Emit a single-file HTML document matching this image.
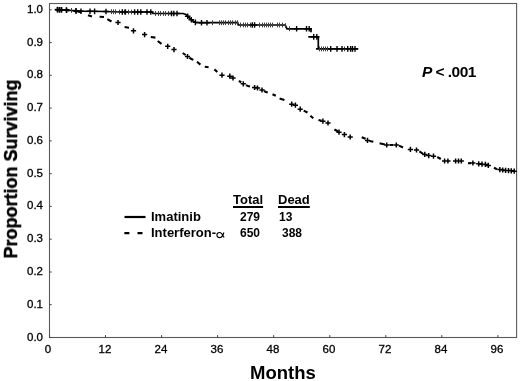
<!DOCTYPE html><html><head><meta charset="utf-8"><style>
html,body{margin:0;padding:0;background:#fff}
#c{position:relative;width:520px;height:381px;overflow:hidden;background:#fff;font-family:"Liberation Sans",sans-serif;color:#000}
.t{position:absolute;white-space:nowrap;line-height:1;will-change:transform}
.yl{font-size:11.5px;width:20px;text-align:right;left:23.1px;-webkit-text-stroke:0.3px #000}
.xl{font-size:11.5px;width:30px;text-align:center;-webkit-text-stroke:0.3px #000}
.b{font-weight:bold;font-size:13px}
.n{font-weight:bold;font-size:12px}
.u{text-decoration:underline;text-decoration-thickness:1.5px;text-underline-offset:1.5px}
</style></head><body><div id="c">
<svg width="520" height="381" viewBox="0 0 520 381" style="position:absolute;left:0;top:0">
<rect x="49.5" y="3.5" width="467.1" height="334.0" fill="none" stroke="#5a5a5a" stroke-width="1.1"/>
<path d="M49.5,337.5h2.2M49.5,304.7h2.2M49.5,272.0h2.2M49.5,239.2h2.2M49.5,206.4h2.2M49.5,173.7h2.2M49.5,140.9h2.2M49.5,108.1h2.2M49.5,75.3h2.2M49.5,42.6h2.2M49.5,9.8h2.2M49.5,337.5v-2.4M105.5,337.5v-2.4M161.6,337.5v-2.4M217.6,337.5v-2.4M273.7,337.5v-2.4M329.8,337.5v-2.4M385.8,337.5v-2.4M441.8,337.5v-2.4M497.9,337.5v-2.4" stroke="#444" stroke-width="1" fill="none"/>
<path d="M55.0,9.5 L66.0,10.0 L76.0,10.8 L81.0,11.2 L106.0,11.5 L120.0,12.0 L152.0,12.0 L153.0,13.5 L183.0,13.5 L186.0,14.5 L188.5,17.0 L191.0,19.5 L193.5,21.5 L196.0,22.7 L237.7,22.7 L238.3,25.0 L285.2,25.0 L287.0,28.8 L311.0,28.8v3.5M308.3,36.9H318.3V48.9M316,48.9H358.3" stroke="#000" stroke-width="1.7" fill="none"/>
<path d="M71.5,8.0v4.8M111.5,9.3v4.8M113.5,9.4v4.8M115.5,9.4v4.8M119.5,9.6v4.8M122.5,9.6v4.8M124.5,9.6v4.8M128.5,9.6v4.8M131.5,9.6v4.8M155.5,11.1v4.8M158.5,11.1v4.8M160.5,11.1v4.8M163.5,11.1v4.8M165.5,11.1v4.8M168.5,11.1v4.8M212.5,20.3v4.8M219.5,20.3v4.8M221.5,20.3v4.8M223.5,20.3v4.8M225.5,20.3v4.8M228.5,20.3v4.8M230.5,20.3v4.8M232.5,20.3v4.8M235.5,20.3v4.8M237.5,20.3v4.8M240.5,22.6v4.8M243.5,22.6v4.8M245.5,22.6v4.8M247.5,22.6v4.8M250.5,22.6v4.8M259.5,22.6v4.8M262.5,22.6v4.8M264.5,22.6v4.8M266.5,22.6v4.8M268.5,22.6v4.8M270.5,22.6v4.8M272.5,22.6v4.8M277.5,22.6v4.8M279.5,22.6v4.8M282.5,22.6v4.8M285.5,23.2v4.8M289.5,26.4v4.8M319.5,46.5v4.8M321.5,46.5v4.8M323.5,46.5v4.8M325.5,46.5v4.8M327.5,46.5v4.8M344.5,46.5v4.8" stroke="#3c3c3c" stroke-width="1" fill="none"/>
<path d="M54.7,9.6h5.6M57.5,6.8v5.6M56.7,9.7h5.6M59.5,6.9v5.6M58.7,9.8h5.6M61.5,7.0v5.6M63.7,10.0h5.6M66.5,7.2v5.6M73.2,10.8h5.6M76.0,8.0v5.6M78.2,11.2h5.6M81.0,8.4v5.6M87.2,11.3h5.6M90.0,8.5v5.6M91.8,11.4h5.6M94.6,8.6v5.6M103.2,11.5h5.6M106.0,8.7v5.6M119.5,12.0h5.6M122.3,9.2v5.6M122.6,12.0h5.6M125.4,9.2v5.6M131.8,12.0h5.6M134.6,9.2v5.6M134.9,12.0h5.6M137.7,9.2v5.6M138.0,12.0h5.6M140.8,9.2v5.6M144.2,12.0h5.6M147.0,9.2v5.6M148.0,12.0h5.6M150.8,9.2v5.6M168.7,13.5h5.6M171.5,10.7v5.6M171.0,13.5h5.6M173.8,10.7v5.6M174.2,13.5h5.6M177.0,10.7v5.6M184.9,16.2h5.6M187.7,13.4v5.6M188.5,19.7h5.6M191.3,16.9v5.6M192.6,22.4h5.6M195.4,19.6v5.6M198.7,22.7h5.6M201.5,19.9v5.6M204.2,22.7h5.6M207.0,19.9v5.6M249.5,25.0h5.6M252.3,22.2v5.6M251.8,25.0h5.6M254.6,22.2v5.6M293.8,28.8h5.6M296.6,26.0v5.6M303.7,28.8h5.6M306.5,26.0v5.6M306.4,28.8h5.6M309.2,26.0v5.6M310.9,36.9h5.6M313.7,34.1v5.6M314.0,36.9h5.6M316.8,34.1v5.6M327.9,48.9h5.6M330.7,46.1v5.6M334.2,48.9h5.6M337.0,46.1v5.6M339.2,48.9h5.6M342.0,46.1v5.6M344.9,48.9h5.6M347.7,46.1v5.6M347.8,48.9h5.6M350.6,46.1v5.6M349.7,48.9h5.6M352.5,46.1v5.6M352.2,48.9h5.6M355.0,46.1v5.6" stroke="#000" stroke-width="1.4" fill="none"/>
<path d="M66.0,10.2 L69.5,10.5M77.5,11.5 L81.0,12.2 L81.5,12.4M88.0,15.2 L92.0,16.5M99.6,16.8 L104.0,17.0M107.3,19.2 L111.5,21.5M124.6,27.0 L129.0,27.8M150.8,37.0 L155.4,37.6M157.7,41.0 L161.5,43.8M182.7,53.0 L185.6,55.0M189.4,57.7 L191.0,58.8 L193.3,59.9M197.0,61.7 L200.4,64.6M204.8,66.8 L208.6,67.2M214.4,69.4 L217.3,72.0M238.8,81.0 L241.3,82.3M246.0,85.1 L248.0,86.0 L250.0,86.5M264.0,91.0 L266.0,92.0 L267.7,92.6M272.5,94.2 L275.8,95.8M279.6,98.5 L284.4,100.0M303.7,110.6 L307.5,112.5M310.4,115.8 L313.3,118.3M318.5,119.9 L321.5,120.8M334.4,129.5 L337.7,131.2 L338.3,131.7M361.7,137.3 L365.6,138.8M369.4,140.9 L371.0,141.3 L373.3,141.8M379.6,143.3 L384.8,144.6M389.5,145.0 L393.5,145.0M399.0,145.6 L403.0,147.5M419.4,151.3 L423.3,154.0M437.3,157.0 L440.8,159.0M468.0,163.3 L471.0,163.1M494.0,167.7 L497.0,169.2" stroke="#000" stroke-width="2.1" fill="none"/>
<path d="M54.9,9.7h5.2M57.5,7.1v5.2M56.9,9.8h5.2M59.5,7.2v5.2M58.9,9.9h5.2M61.5,7.3v5.2M63.9,10.2h5.2M66.5,7.7v5.2M73.4,11.2h5.2M76.0,8.6v5.2M115.4,22.5h5.2M118.0,19.9v5.2M130.9,30.8h5.2M133.5,28.2v5.2M142.0,34.6h5.2M144.6,32.0v5.2M165.1,46.3h5.2M167.7,43.7v5.2M171.4,49.6h5.2M174.0,47.0v5.2M184.9,56.5h5.2M187.5,53.9v5.2M219.4,75.2h5.2M222.0,72.6v5.2M227.2,76.2h5.2M229.8,73.6v5.2M230.4,78.0h5.2M233.0,75.4v5.2M240.7,83.8h5.2M243.3,81.2v5.2M252.0,87.5h5.2M254.6,84.9v5.2M254.9,88.0h5.2M257.5,85.4v5.2M259.4,90.0h5.2M262.0,87.4v5.2M289.1,104.2h5.2M291.7,101.6v5.2M292.8,105.2h5.2M295.4,102.6v5.2M297.6,109.2h5.2M300.2,106.6v5.2M320.3,121.2h5.2M322.9,118.6v5.2M325.4,123.0h5.2M328.0,120.4v5.2M336.4,132.2h5.2M339.0,129.6v5.2M341.8,134.6h5.2M344.4,132.0v5.2M347.6,137.0h5.2M350.2,134.4v5.2M364.9,140.4h5.2M367.5,137.8v5.2M384.1,145.0h5.2M386.7,142.4v5.2M393.7,145.0h5.2M396.3,142.4v5.2M407.8,149.4h5.2M410.4,146.8v5.2M413.9,150.0h5.2M416.5,147.4v5.2M422.2,154.4h5.2M424.8,151.8v5.2M426.1,155.6h5.2M428.7,153.0v5.2M430.9,156.2h5.2M433.5,153.6v5.2M442.0,161.0h5.2M444.6,158.4v5.2M445.3,161.0h5.2M447.9,158.4v5.2M453.0,161.0h5.2M455.6,158.4v5.2M455.9,161.0h5.2M458.5,158.4v5.2M458.7,161.0h5.2M461.3,158.4v5.2M470.3,163.0h5.2M472.9,160.4v5.2M476.1,163.8h5.2M478.7,161.2v5.2M479.4,164.2h5.2M482.0,161.6v5.2M482.8,164.4h5.2M485.4,161.8v5.2M485.7,165.4h5.2M488.3,162.8v5.2M497.2,169.6h5.2M499.8,167.0v5.2M500.1,170.0h5.2M502.7,167.4v5.2M503.0,170.4h5.2M505.6,167.8v5.2M505.9,170.6h5.2M508.5,168.0v5.2M508.7,170.8h5.2M511.3,168.2v5.2M511.6,171.2h5.2M514.2,168.6v5.2" stroke="#000" stroke-width="1.5" fill="none"/>
<path d="M124.5,217h21" stroke="#000" stroke-width="2.2" fill="none"/>
<path d="M124.4,233.2h5M137.5,233.2h5" stroke="#000" stroke-width="2.2" fill="none"/>
<path transform="translate(216.9,232.5)" d="M7,0 C6.2,2.8 4.6,5.1 2.6,5.1 C1,5.1 0,4 0,2.55 C0,1.1 1,0 2.6,0 C4.6,0 5.9,2.4 7.2,5.1" stroke="#000" stroke-width="1.15" fill="none"/>
</svg>
<div class="t yl" style="top:331.5px">0.0</div>
<div class="t yl" style="top:298.7px">0.1</div>
<div class="t yl" style="top:266.0px">0.2</div>
<div class="t yl" style="top:233.2px">0.3</div>
<div class="t yl" style="top:200.4px">0.4</div>
<div class="t yl" style="top:167.7px">0.5</div>
<div class="t yl" style="top:134.9px">0.6</div>
<div class="t yl" style="top:102.1px">0.7</div>
<div class="t yl" style="top:69.3px">0.8</div>
<div class="t yl" style="top:36.6px">0.9</div>
<div class="t yl" style="top:3.8px">1.0</div>
<div class="t xl" style="left:32.6px;top:344px">0</div>
<div class="t xl" style="left:89.8px;top:344px">12</div>
<div class="t xl" style="left:145.8px;top:344px">24</div>
<div class="t xl" style="left:201.8px;top:344px">36</div>
<div class="t xl" style="left:257.9px;top:344px">48</div>
<div class="t xl" style="left:313.9px;top:344px">60</div>
<div class="t xl" style="left:370.0px;top:344px">72</div>
<div class="t xl" style="left:426.0px;top:344px">84</div>
<div class="t xl" style="left:482.1px;top:344px">96</div>
<div class="t" style="font-weight:bold;font-size:18px;left:10.5px;top:169px;-webkit-text-stroke:0.45px #000;transform:translate(-50%,-50%) rotate(-90deg)">Proportion Surviving</div>
<div class="t" style="font-weight:bold;font-size:18.5px;left:249.7px;top:363.5px">Months</div>
<div class="t" style="font-weight:bold;font-size:15.5px;left:422px;top:63.6px;letter-spacing:-0.55px"><i>P</i> &lt; .001</div>
<div class="t b" style="left:233px;top:192.5px"><span class="u">Total</span></div>
<div class="t b" style="left:277.5px;top:192.5px"><span class="u">Dead</span></div>
<div class="t b" style="left:150.5px;top:210px">Imatinib</div>
<div class="t n" style="left:239.5px;top:211.3px">279</div>
<div class="t n" style="left:278.6px;top:211.3px">13</div>
<div class="t b" style="left:150.5px;top:226.2px">Interferon-</div>
<div class="t n" style="left:239.5px;top:227.3px">650</div>
<div class="t n" style="left:281.6px;top:227.3px">388</div>
</div></body></html>
